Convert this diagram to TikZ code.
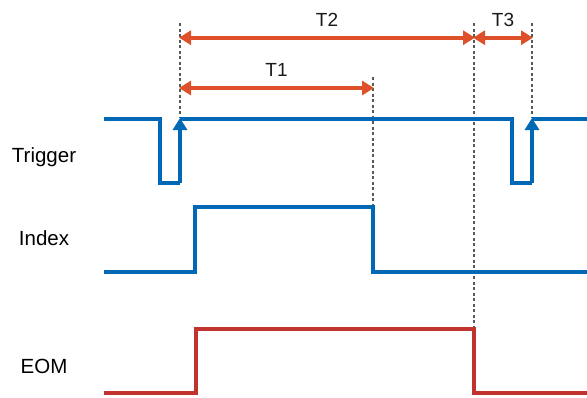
\documentclass[tikz,border=0pt]{standalone}
\usepackage{fontspec}
\setmainfont{Liberation Sans}
\usetikzlibrary{positioning,calc,arrows.meta}
\definecolor{sigblue}{RGB}{0,104,180}
\definecolor{spanred}{RGB}{222,80,42}
\definecolor{eomred}{RGB}{192,52,45}

\begin{document}
\begin{tikzpicture}[x=1pt,y=-1pt,
    sig/.style={line width=4pt, line join=miter},
    span/.style={{Triangle[length=12pt,width=14pt]}-{Triangle[length=12pt,width=14pt]}, line width=4pt, spanred, shorten <=-1pt, shorten >=-1pt},
    rise/.style={sig, -{Triangle[length=12pt,width=14pt]}, shorten >=-1pt},
    guide/.style={dash pattern=on 3pt off 2.5pt, line width=1.3pt, black!65},
    sigtext/.style={font=\fontsize{20.5}{22}\selectfont, anchor=base, inner sep=0pt},
    tlabel/.style={font=\fontsize{19}{20}\selectfont, text=black!90, anchor=base, inner sep=0pt, midway}]
    \useasboundingbox (0,0) rectangle (587,397);
    % signal names
    \node[sigtext] (trig_name) at (44,162) {Trigger};
    \node[sigtext] (idx_name) at (44,245) {Index};
    \node[sigtext] (eom_name) at (44,373) {EOM};
    % timing marks
    \coordinate (m1_top) at (180,23);
    \coordinate (m1_bot) at (180,118);
    \coordinate (m2_top) at (373,77);
    \coordinate (m2_bot) at (373,207);
    \coordinate (m3_top) at (474,23);
    \coordinate (m3_bot) at (474,329);
    \coordinate (m4_top) at (532,23);
    \coordinate (m4_bot) at (532,118);
    %
    \draw[guide] (m1_top) -- (m1_bot);
    \draw[guide] (m2_top) -- (m2_bot);
    \draw[guide] (m3_top) -- (m3_bot);
    \draw[guide] (m4_top) -- (m4_bot);
    %
    \draw[span] (m1_top |- 0,37.7) -- node[tlabel, yshift=11pt]{T2} (m3_top |- 0,37.7);
    \draw[span] (m1_top |- 0,88) -- node[tlabel, yshift=12pt]{T1} (m2_top |- 0,88);
    \draw[span] (m3_top |- 0,37.7) -- node[tlabel, yshift=11pt]{T3} (m4_top |- 0,37.7);
    % trigger
    \draw[sig, sigblue] (104,119) -- (160,119) -- (160,183) -- (180,183);
    \draw[rise, sigblue] (180,183) -- (180,119);
    \draw[sig, sigblue] (180,119) -- (512,119) -- (512,183) -- (532,183);
    \draw[rise, sigblue] (532,183) -- (532,119);
    \draw[sig, sigblue] (532,119) -- (587,119);
    % index
    \draw[sig, sigblue] (104,272) -- (195,272) -- (195,207) -- (373,207) -- (373,272) -- (587,272);
    % eom
    \draw[sig, eomred] (104,393) -- (196,393) -- (196,329) -- (474,329) -- (474,393) -- (587,393);
\end{tikzpicture}
\end{document}
